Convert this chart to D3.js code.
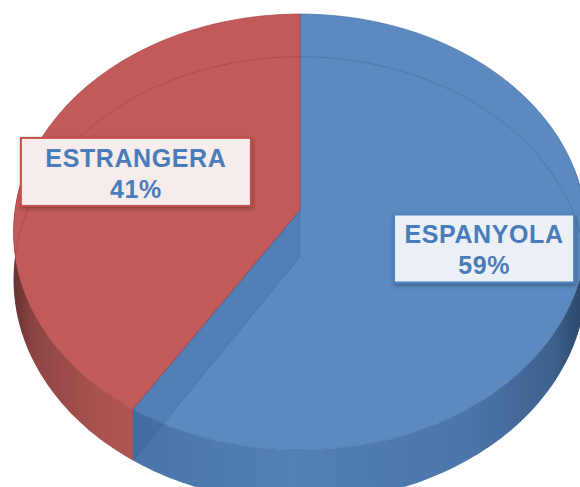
<!DOCTYPE html>
<html>
<head>
<meta charset="utf-8">
<script src="https://cdn.jsdelivr.net/npm/d3@7"></script>
<style>
  html, body { margin: 0; padding: 0; background: #fff; }
  svg { display: block; }
</style>
</head>
<body>
<div id="chart"></div>
<script>
var categories = ["ESPANYOLA", "ESTRANGERA"];
var values = [59, 41];
var percentLabels = ["59%", "41%"];

var width = 580, height = 487;

// 3d pie geometry (perspective view of a flat cylinder)
var cx = 300, cy = 257;
var rx = 285, ry = 220.5;
var depth = 47;
var persp = 0.101;

var topColor = ["#5B89C0", "#C15A58"];
var edgeColor = ["#46709F", "#A8403F"];
var labelFill = ["#EBF0F6", "#F6ECEC"];
var labelBorder = ["#4F81BD", "#C0504D"];
var boxWidth = [180, 230];
var labelRadius = [0.66, 0.61];

function project(a, r, y) {
	var u = r * Math.sin(a), v = -r * Math.cos(a);
	var w = 1 - persp * v;
	return [cx + rx * u / w, cy + (ry * v - depth * y) / w];
}

function rim(a0, a1, y) {
	var pts = [];
	var n = Math.max(2, Math.ceil(Math.abs(a1 - a0) / 0.02));
	for (var i = 0; i <= n; i++) {
		pts.push(project(a0 + (a1 - a0) * i / n, 1, y));
	}
	return pts;
}

var line = d3.line();

var svg = d3.select('#chart').append('svg')
	.attr('width', width)
	.attr('height', height);

var defs = svg.append('defs');

var gBlue = defs.append('linearGradient').attr('id', 'sideBlue')
	.attr('gradientUnits', 'userSpaceOnUse')
	.attr('x1', 0).attr('x2', width).attr('y1', 0).attr('y2', 0);
[[0.22, "#4A74A9"], [0.5, "#5480B6"], [0.8, "#4C76AA"], [0.95, "#3E6290"], [1, "#2E4A6E"]].forEach(function (s) {
	gBlue.append('stop').attr('offset', s[0]).attr('stop-color', s[1]);
});

var gRed = defs.append('linearGradient').attr('id', 'sideRed')
	.attr('gradientUnits', 'userSpaceOnUse')
	.attr('x1', 0).attr('x2', width).attr('y1', 0).attr('y2', 0);
[[0.015, "#5E2E2E"], [0.06, "#8E4544"], [0.16, "#A85250"], [0.24, "#B05654"]].forEach(function (s) {
	gRed.append('stop').attr('offset', s[0]).attr('stop-color', s[1]);
});
var sideFill = ["url(#sideBlue)", "url(#sideRed)"];

var shadow = defs.append('filter').attr('id', 'shadow')
	.attr('x', '-10%').attr('y', '-20%').attr('width', '130%').attr('height', '150%');
shadow.append('feDropShadow')
	.attr('dx', 1).attr('dy', 2).attr('stdDeviation', 2)
	.attr('flood-color', '#000').attr('flood-opacity', 0.3);

// clip for lines seen through the transparent top
defs.append('clipPath').attr('id', 'topClip')
	.append('path')
	.attr('d', line(rim(0, 2 * Math.PI, 1)) + 'Z');

var arcs = d3.pie().sort(null).value(function (d) { return d; })(values);

// side walls (front half only)
var lo = Math.PI / 2 - 0.2, hi = 3 * Math.PI / 2 + 0.2;
svg.append('g').selectAll('path')
	.data(arcs)
	.enter()
	.append('path')
	.attr('d', function (d) {
		var a0 = Math.max(d.startAngle, lo), a1 = Math.min(d.endAngle, hi);
		if (a1 <= a0) return null;
		var pts = rim(a0, a1, 1).concat(rim(a1, a0, 0));
		return line(pts) + 'Z';
	})
	.attr('fill', function (d, i) { return sideFill[i]; });

// top faces
svg.append('g').selectAll('path')
	.data(arcs)
	.enter()
	.append('path')
	.attr('d', function (d) {
		var pts = [project(0, 0, 1)].concat(rim(d.startAngle, d.endAngle, 1));
		return line(pts) + 'Z';
	})
	.attr('fill', function (d, i) { return topColor[i]; })
	.attr('stroke', function (d, i) { return edgeColor[i]; })
	.attr('stroke-opacity', 0.6)
	.attr('stroke-width', 1);

// back bottom edge, visible through the top
var see = svg.append('g').attr('clip-path', 'url(#topClip)');
arcs.forEach(function (d, i) {
	var a0 = Math.max(d.startAngle, 4.3), a1 = d.endAngle;
	if (i === 0) { a0 = d.startAngle; a1 = Math.min(d.endAngle, 2.0); }
	see.append('path')
		.attr('d', line(rim(a0, a1, 0)))
		.attr('fill', 'none')
		.attr('stroke', edgeColor[i])
		.attr('stroke-opacity', 0.55)
		.attr('stroke-width', 1);
});

// cut face of the first slice, seen through its top
var cut = arcs[0].endAngle;
svg.append('path')
	.attr('d', line([project(0, 0, 1), project(cut, 1, 1), project(cut, 1, 0), project(0, 0, 0)]) + 'Z')
	.attr('fill', '#2F5587')
	.attr('fill-opacity', 0.22)
	.attr('stroke', '#2F5587')
	.attr('stroke-opacity', 0.2);

// labels
var labels = svg.append('g').selectAll('g')
	.data(arcs)
	.enter()
	.append('g')
	.attr('transform', function (d, i) {
		var mid = (d.startAngle + d.endAngle) / 2;
		var p = project(mid, labelRadius[i], 1);
		return 'translate(' + p[0] + ',' + (p[1] - 2) + ')';
	});

labels.append('rect')
	.attr('x', function (d, i) { return -boxWidth[i] / 2; })
	.attr('y', -34)
	.attr('width', function (d, i) { return boxWidth[i]; })
	.attr('height', 68)
	.attr('fill', function (d, i) { return labelFill[i]; })
	.attr('stroke', function (d, i) { return labelBorder[i]; })
	.attr('stroke-width', 2)
	.attr('filter', 'url(#shadow)');

labels.append('text')
	.attr('text-anchor', 'middle')
	.attr('y', -5)
	.attr('font-family', 'Liberation Sans, Arial, sans-serif')
	.attr('font-weight', 'bold')
	.attr('font-size', 25)
	.attr('letter-spacing', 0.6)
	.attr('fill', '#4A7CB9')
	.text(function (d, i) { return categories[i]; });

labels.append('text')
	.attr('text-anchor', 'middle')
	.attr('y', 26)
	.attr('font-family', 'Liberation Sans, Arial, sans-serif')
	.attr('font-weight', 'bold')
	.attr('font-size', 25)
	.attr('letter-spacing', 0.6)
	.attr('fill', '#4A7CB9')
	.text(function (d, i) { return percentLabels[i]; });
</script>
</body>
</html>
